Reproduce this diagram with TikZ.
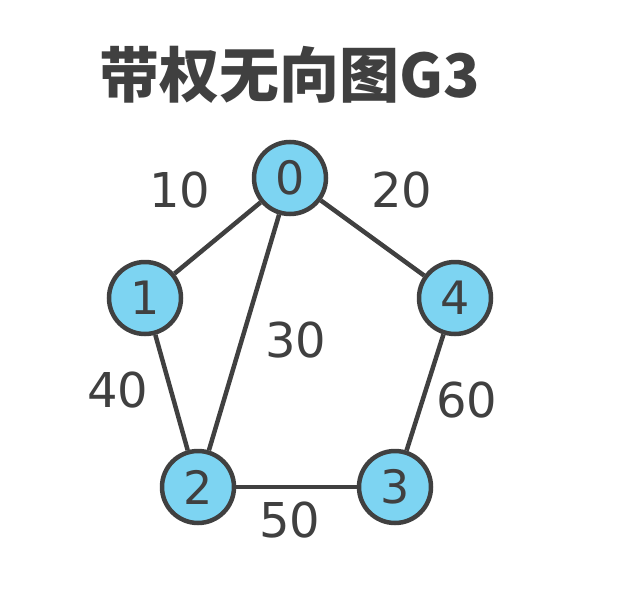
\documentclass[tikz,border=0pt]{standalone}
\usepackage{fontspec}
\setmainfont{DejaVu Sans}
\newfontfamily\cjk{Noto Sans CJK SC}
\definecolor{vtxblue}{RGB}{125,212,242}
\definecolor{edgegray}{RGB}{64,64,64}
\tikzset{
  vtx/.style={circle, draw=edgegray, line width=4.5pt, fill=vtxblue, minimum size=72pt, inner sep=0pt, font=\fontsize{46}{46}\selectfont, text=edgegray},
  edge/.style={draw=edgegray, line width=4.5pt},
  wlabel/.style={font=\fontsize{48}{48}\selectfont, text=edgegray}
}
\begin{document}
\begin{tikzpicture}[x=1pt, y=-1pt]
    \useasboundingbox (0,0) rectangle (620,591);
    \node[font=\cjk\bfseries\fontsize{60}{60}\selectfont, text=edgegray] (title) at (290,75) {带权无向图G3};
    % vertices
    \node[vtx] (v0) at (290,178) {0};
    \node[vtx] (v1) at (145,298) {1};
    \node[vtx] (v4) at (455,298) {4};
    \node[vtx] (v2) at (198,487) {2};
    \node[vtx] (v3) at (395,487) {3};
    % edges
    \draw[edge] (v0) -- (v1);
    \draw[edge] (v0) -- (v4);
    \draw[edge] (v0) -- (v2);
    \draw[edge] (v1) -- (v2);
    \draw[edge] (v2) -- (v3);
    \draw[edge] (v4) -- (v3);
    % weights
    \node[wlabel] (w10) at (180,190) {10};
    \node[wlabel] (w20) at (402,190) {20};
    \node[wlabel] (w30) at (296,340) {30};
    \node[wlabel] (w40) at (118,390) {40};
    \node[wlabel] (w60) at (467,400) {60};
    \node[wlabel] (w50) at (290,520) {50};
\end{tikzpicture}
\end{document}
